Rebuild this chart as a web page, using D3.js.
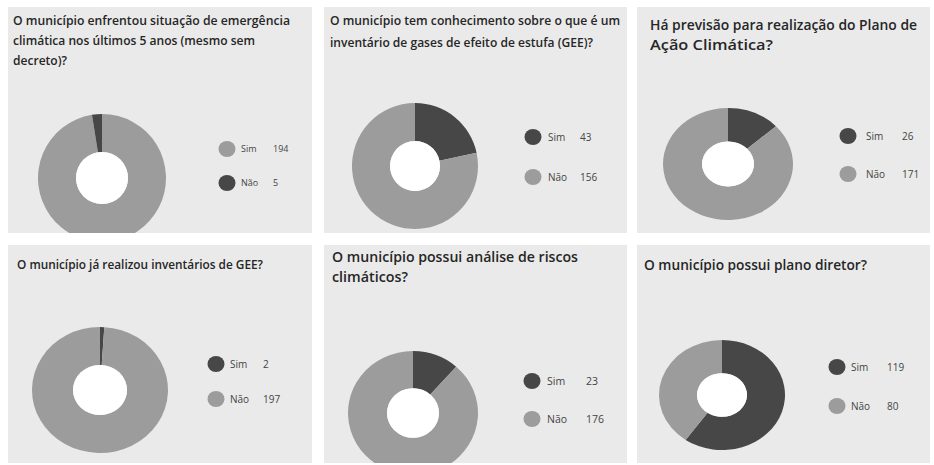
<!DOCTYPE html>
<html><head><meta charset="utf-8">
<script src="https://cdn.jsdelivr.net/npm/d3@7"></script>
<style>html,body{margin:0;padding:0;background:#fff;}svg{display:block;}</style>
</head><body>
<script>
// ---- DATA ----
const titles = [
  ["O município enfrentou situação de emergência", "climática nos últimos 5 anos (mesmo sem", "decreto)?"],
  ["O município tem conhecimento sobre o que é um", "inventário de gases de efeito de estufa (GEE)?"],
  ["Há previsão para realização do Plano de", "Ação Climática?"],
  ["O município já realizou inventários de GEE?"],
  ["O município possui análise de riscos", "climáticos?"],
  ["O município possui plano diretor?"]
];
const categories = ["Sim", "Não"];
const simValues = [194, 43, 26, 2, 23, 119];
const naoValues = [5, 156, 171, 197, 176, 80];

// ---- STYLE / LAYOUT ----
const DARK = "#474747", LIGHT = "#9c9c9c";
const sliceColors = [
  [LIGHT, DARK], [DARK, LIGHT], [DARK, LIGHT], [DARK, LIGHT], [DARK, LIGHT], [DARK, LIGHT]
];
const layout = [
  {x:8,   y:7,   w:304, h:226, tx:13,  ty:[20,40,60], fs:13,   tw:[277,242,54], cx:102, cy:178, rx:64, ry:64, ir:26, lx:227, ly:[149,183], lt:241, lv:273, lfs:9},
  {x:324, y:7,   w:303, h:226, tx:330, ty:[20,42],    fs:13,   tw:[290,263],    cx:415, cy:166, rx:63, ry:63, ir:25, lx:533, ly:[137,177], lt:548, lv:580, lfs:10},
  {x:637, y:7,   w:293, h:226, tx:650, ty:[25,45],    fs:14.5, tw:[267,123],    cx:728, cy:164, rx:65, ry:56, ir:26, lx:848, ly:[136,174], lt:866, lv:902, lfs:10},
  {x:8,   y:245, w:304, h:218, tx:17,  ty:[265],      fs:12,   tw:[246],        cx:100, cy:390, rx:68, ry:63, ir:27, lx:216, ly:[364,399], lt:230, lv:263, lfs:10},
  {x:324, y:245, w:303, h:218, tx:332, ty:[257,277],  fs:14.5, tw:[246,76],     cx:413, cy:413, rx:65, ry:62, ir:26, lx:532, ly:[381,419], lt:547, lv:586, lfs:10.5},
  {x:637, y:245, w:293, h:218, tx:644, ty:[265],      fs:13.5, tw:[223],        cx:722, cy:395, rx:63, ry:55, ir:25, lx:837, ly:[367,406], lt:851, lv:887, lfs:10}
];

const W = 934, H = 465;
const svg = d3.select("body").append("svg").attr("width", W).attr("height", H);
svg.append("rect").attr("width", W).attr("height", H).attr("fill", "#fff");

const pie = d3.pie().sort(null).value(d => d.value);

layout.forEach((L, i) => {
  const data = categories.map((c, k) => ({cat: c, value: k === 0 ? simValues[i] : naoValues[i], color: sliceColors[i][k]}));
  const clipId = "clip" + i;
  svg.append("clipPath").attr("id", clipId)
    .append("rect").attr("x", L.x).attr("y", L.y).attr("width", L.w).attr("height", L.h);
  const g = svg.append("g").attr("clip-path", `url(#${clipId})`);
  g.append("rect").attr("x", L.x).attr("y", L.y).attr("width", L.w).attr("height", L.h).attr("fill", "#eaeaea");

  // title
  titles[i].forEach((line, j) => {
    g.append("text").attr("x", L.tx).attr("y", L.ty[j]).attr("dy", "0.36em")
      .attr("font-family", "'Open Sans', sans-serif").attr("font-weight", 600)
      .attr("font-size", L.fs).attr("fill", "#262626")
      .attr("textLength", L.tw[j]).attr("lengthAdjust", "spacingAndGlyphs")
      .text(line);
  });

  // donut (scaled for slight stretch)
  const R = L.rx;
  const arc = d3.arc().innerRadius(L.ir * R / L.rx).outerRadius(R);
  const dg = g.append("g").attr("transform", `translate(${L.cx},${L.cy}) scale(1,${L.ry / L.rx})`);
  dg.selectAll("path").data(pie(data)).join("path")
    .attr("d", arc).attr("fill", d => d.data.color);
  dg.append("circle").attr("r", L.ir).attr("fill", "#fff");

  // legend
  data.forEach((d, k) => {
    g.append("ellipse").attr("cx", L.lx).attr("cy", L.ly[k]).attr("rx", 8.5).attr("ry", 8).attr("fill", d.color);
    g.append("text").attr("x", L.lt).attr("y", L.ly[k]).attr("dy", "0.35em")
      .attr("font-family", "'Open Sans', sans-serif").attr("font-size", L.lfs).attr("fill", "#444")
      .text(d.cat);
    g.append("text").attr("x", L.lv).attr("y", L.ly[k]).attr("dy", "0.35em")
      .attr("font-family", "'Open Sans', sans-serif").attr("font-size", L.lfs).attr("fill", "#444")
      .text(d.value);
  });
});
</script>
</body></html>
